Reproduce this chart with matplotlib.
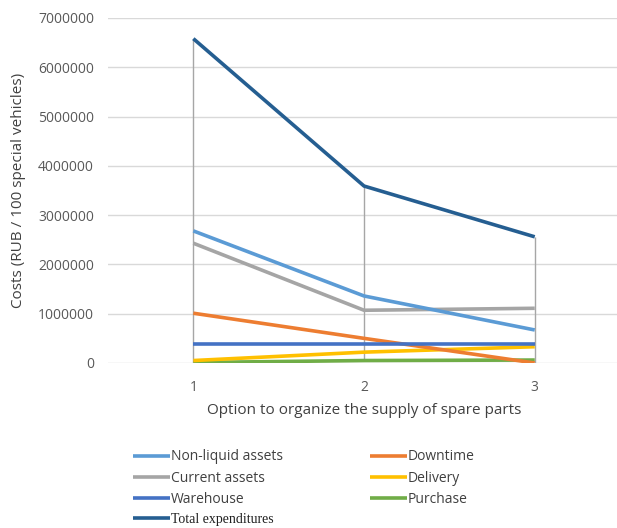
import matplotlib.pyplot as plt
from matplotlib.ticker import FuncFormatter

plt.rcParams['font.family'] = ['Open Sans', 'DejaVu Sans']

options = [1, 2, 3]
non_liquid = [2680000, 1360000, 670000]
downtime = [1010000, 500000, 0]
current_assets = [2430000, 1070000, 1110000]
delivery = [50000, 220000, 330000]
warehouse = [380000, 380000, 380000]
purchase = [10000, 50000, 60000]
total = [6580000, 3590000, 2560000]

fig = plt.figure(figsize=(6.17, 5.28), dpi=100)
ax = fig.add_axes([0.175, 0.3125, 0.83, 0.6535])

series = [
    ('Non-liquid assets', non_liquid, '#5B9BD5'),
    ('Current assets', current_assets, '#A5A5A5'),
    ('Warehouse', warehouse, '#4472C4'),
    ('Total expenditures', total, '#255E91'),
    ('Downtime', downtime, '#ED7D31'),
    ('Delivery', delivery, '#FFC000'),
    ('Purchase', purchase, '#70AD47'),
]

# high-low lines at each option
all_vals = [s[1] for s in series]
lows = [min(v[i] for v in all_vals) for i in range(len(options))]
highs = [max(v[i] for v in all_vals) for i in range(len(options))]
ax.vlines(options, lows, highs, color='#A6A6A6', lw=1, zorder=2)

draw_order = ['Purchase', 'Delivery', 'Downtime', 'Warehouse', 'Current assets',
              'Non-liquid assets', 'Total expenditures']
handles = {}
for name, vals, col in series:
    ln, = ax.plot(options, vals, color=col, lw=2.6, label=name,
                  zorder=3 + draw_order.index(name), solid_capstyle='butt')
    handles[name] = ln

ax.set_xlim(0.5, 3.5)
ax.set_ylim(0, 7000000)
ax.set_yticks(range(0, 7000001, 1000000))
ax.yaxis.set_major_formatter(FuncFormatter(lambda v, p: f'{int(v)}'))
ax.set_xticks(options)
ax.grid(axis='y', color='#D9D9D9', lw=1)
ax.set_axisbelow(True)
for s in ax.spines.values():
    s.set_visible(False)
ax.tick_params(length=0, colors='#595959', labelsize=10)
ax.tick_params(axis='x', pad=12)
ax.tick_params(axis='y', pad=10)
ax.set_xlabel('Option to organize the supply of spare parts', fontsize=11, color='#404040', labelpad=6)
ax.set_ylabel('Costs (RUB / 100 special vehicles)', fontsize=11, color='#404040', labelpad=9)

leg = fig.legend([handles[s[0]] for s in series], [s[0] for s in series],
                 ncol=2, loc='upper left', bbox_to_anchor=(0.205, 0.162),
                 frameon=False, fontsize=10, handlelength=2.6, handletextpad=0.1,
                 columnspacing=6.3, labelspacing=0.45, borderpad=0)
for t in leg.get_texts():
    t.set_color('#404040')
    if t.get_text() == 'Total expenditures':
        t.set_fontfamily('Liberation Serif')
        t.set_color('#202020')

fig.savefig('out.png', dpi=100)
